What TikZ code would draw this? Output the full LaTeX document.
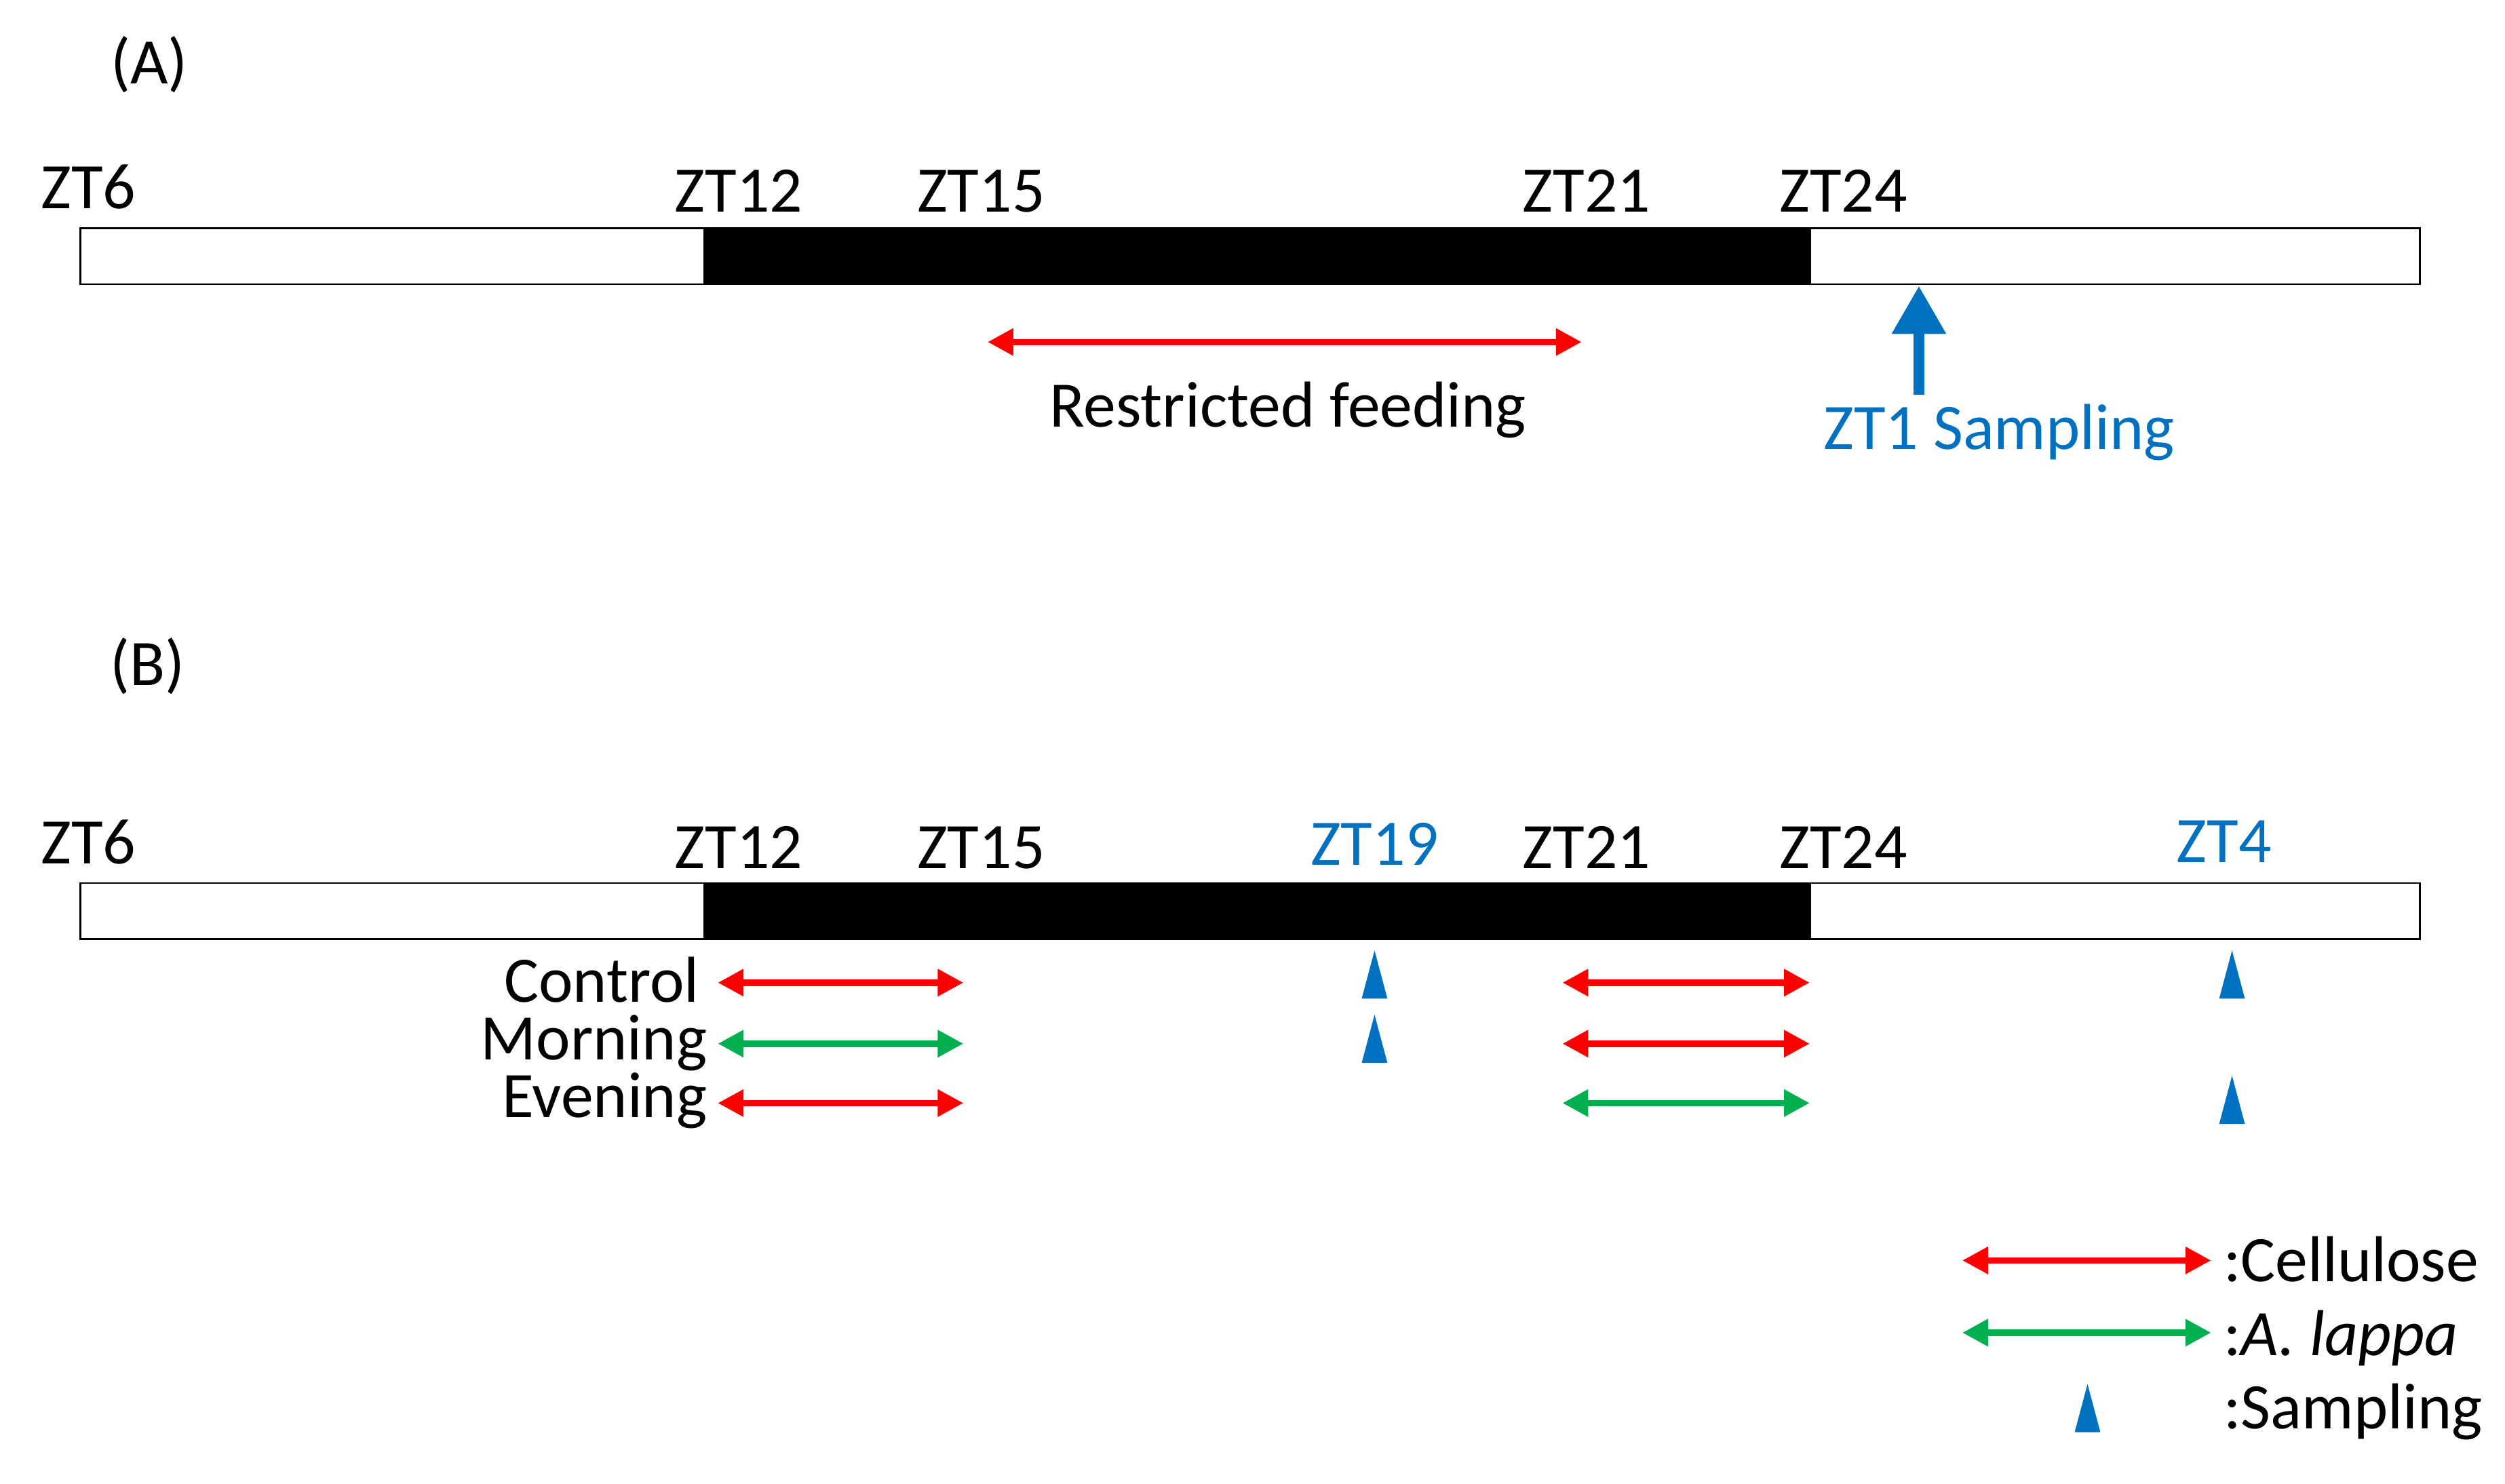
\documentclass[tikz,border=0pt]{standalone}
\usepackage{fontspec}
\setmainfont{Carlito}
\usetikzlibrary{arrows.meta}
\definecolor{myblue}{RGB}{0,112,192}
\definecolor{mygreen}{RGB}{0,176,80}
\definecolor{myred}{RGB}{255,0,0}
\begin{document}
\begin{tikzpicture}[x=0.01cm,y=-0.01cm,
  every node/.style={font=\fontsize{11.5}{13}\selectfont, inner sep=0pt},
  lbl/.style={anchor=base},
  dbl/.style={line width=0.04cm, {Triangle[length=0.16cm,width=0.16cm]}-{Triangle[length=0.16cm,width=0.16cm]}},
  tri/.style={fill=myblue, draw=none},
  bar/.style={draw=black, line width=0.012cm}]
\useasboundingbox (0,0) rectangle (1560,924);
% (A)
\node[lbl] (lA) at (93,52) {(A)};
\draw[bar] (50,142) rectangle (1507,177);
\fill (438,142) rectangle (1128,177);
\foreach \x/\t/\n in {55/ZT6/a6,460/ZT12/a12,611/ZT15/a15,988/ZT21/a21,1148/ZT24/a24}
  \node[lbl] (\n) at (\x,\ifnum\x=55 130\else 132\fi) {\t};
\coordinate (rfl) at (615,213); \coordinate (rfr) at (985,213);
\draw[dbl, myred] (rfl) -- (rfr);
\node[lbl] (rf) at (802,266) {Restricted feeding};
\coordinate (sa) at (1195,246); \coordinate (sb) at (1195,178);
\draw[myblue, line width=0.07cm, -{Triangle[length=0.3cm,width=0.32cm]}] (sa) -- (sb);
\node[lbl, text=myblue] (zt1) at (1245,280) {ZT1 Sampling};
% (B)
\node[lbl] (lB) at (92,427) {(B)};
\draw[bar] (50,550) rectangle (1507,585);
\fill (438,550) rectangle (1128,585);
\node[lbl] (b6) at (55,538) {ZT6};
\foreach \x/\t/\n in {460/ZT12/b12,611/ZT15/b15,988/ZT21/b21,1148/ZT24/b24}
  \node[lbl] (\n) at (\x,541) {\t};
\node[lbl, text=myblue] (b19) at (856,539) {ZT19};
\node[lbl, text=myblue] (b4) at (1385,537) {ZT4};
\node[anchor=base east] (ctl) at (436,624) {Control};
\node[anchor=base east] (mor) at (441,660) {Morning};
\node[anchor=base east] (eve) at (441,696) {Evening};
\foreach \y/\cl/\cr/\n in {612/myred/myred/c, 650/mygreen/myred/m, 687/myred/mygreen/e}{
  \coordinate (\n1) at (447,\y); \coordinate (\n2) at (600,\y);
  \coordinate (\n3) at (973,\y); \coordinate (\n4) at (1127,\y);
  \draw[dbl, \cl] (\n1) -- (\n2);
  \draw[dbl, \cr] (\n3) -- (\n4);
}
\foreach \x/\y in {856/592, 856/632, 1390/592, 1390/670, 1300/862}
  \fill[tri] (\x-8,\y+30) -- (\x,\y) -- (\x+8,\y+30) -- cycle;
% legend
\coordinate (l1a) at (1222,785); \coordinate (l1b) at (1377,785);
\draw[dbl, myred] (l1a) -- (l1b);
\coordinate (l2a) at (1222,830); \coordinate (l2b) at (1377,830);
\draw[dbl, mygreen] (l2a) -- (l2b);
\node[anchor=base west] (cel) at (1384,798) {:Cellulose};
\node[anchor=base west] (lap) at (1384,844) {:\textit{A. lappa}};
\node[anchor=base west] (smp) at (1384,890) {:Sampling};
\end{tikzpicture}
\end{document}
